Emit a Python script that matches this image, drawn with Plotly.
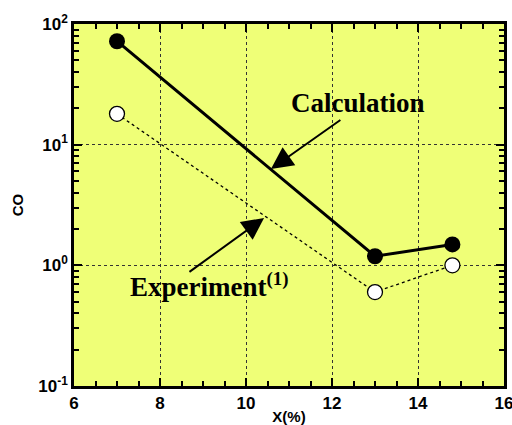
import plotly.graph_objects as go

x_vals = [7, 13, 14.8]
calc_co = [72, 1.19, 1.49]
exp_co = [18, 0.6, 1.0]

x_ticks = [6, 8, 10, 12, 14, 16]
y_tickvals = [0.1, 1, 10, 100]
y_ticktext = ["10<sup>-1</sup>", "10<sup>0</sup>", "10<sup>1</sup>", "10<sup>2</sup>"]

bg = "#EFFF77"
fig = go.Figure()
fig.add_trace(go.Scatter(x=x_vals, y=exp_co, mode="lines+markers",
                         line=dict(color="black", width=1.3, dash="dot"),
                         marker=dict(size=15, color="white", line=dict(color="black", width=1.3)),
                         showlegend=False, cliponaxis=False))
fig.add_trace(go.Scatter(x=x_vals, y=calc_co, mode="lines+markers",
                         line=dict(color="black", width=3),
                         marker=dict(size=16, color="black"),
                         showlegend=False, cliponaxis=False))

serif = dict(family="Liberation Serif", size=27, color="black", weight="bold")
fig.add_annotation(x=12.6, y=1.345, xref="x", yref="y", text="Calculation",
                   showarrow=False, font=serif)
fig.add_annotation(x=10.58, y=0.798, ax=12.23, ay=1.213, xref="x", yref="y",
                   axref="x", ayref="y", text="", showarrow=True,
                   arrowhead=2, arrowsize=2.2, arrowwidth=2, arrowcolor="black")
fig.add_annotation(x=7.26, y=-0.16, xref="x", yref="y", text="Experiment<sup>(1)</sup>",
                   xanchor="left", showarrow=False, font=serif)
fig.add_annotation(x=10.42, y=0.392, ax=8.65, ay=-0.063, xref="x", yref="y",
                   axref="x", ayref="y", text="", showarrow=True,
                   arrowhead=2, arrowsize=2.2, arrowwidth=2, arrowcolor="black")

tickfont = dict(family="Liberation Sans", size=17, color="black", weight="bold")
titlefont = dict(family="Liberation Sans", size=15, color="black", weight="bold")
fig.update_xaxes(range=[6, 16], tickvals=x_ticks, ticks="inside", ticklen=8, tickwidth=2,
                 tickcolor="black", showline=True, linewidth=2.5, linecolor="black",
                 mirror="ticks", showgrid=True, gridcolor="#333333", griddash="dot", gridwidth=1,
                 zeroline=False, tickfont=tickfont, automargin=False, ticklabeloverflow="allow",
                 minor=dict(dtick=0.5, ticks="inside", ticklen=5, tickwidth=1.5, tickcolor="black", showgrid=False),
                 title=dict(text="X(%)", font=titlefont, standoff=4))
fig.update_yaxes(type="log", range=[-1, 2], tickvals=y_tickvals, ticktext=y_ticktext,
                 ticks="inside", ticklen=8, tickwidth=2, tickcolor="black",
                 showline=True, linewidth=2.5, linecolor="black", mirror="ticks",
                 showgrid=True, gridcolor="#333333", griddash="dot", gridwidth=1,
                 zeroline=False, tickfont=tickfont, automargin=False, ticklabeloverflow="allow",
                 minor=dict(dtick="D1", ticks="inside", ticklen=5, tickwidth=1.5, tickcolor="black", showgrid=False),
                 title=dict(text="CO", font=titlefont, standoff=12))
fig.update_layout(width=512, height=425, margin=dict(l=74, r=8, t=24, b=39),
                  plot_bgcolor=bg, paper_bgcolor="white")
fig.write_html("out.html", config={"displayModeBar": False},
               post_script="document.body.style.margin='0';")
